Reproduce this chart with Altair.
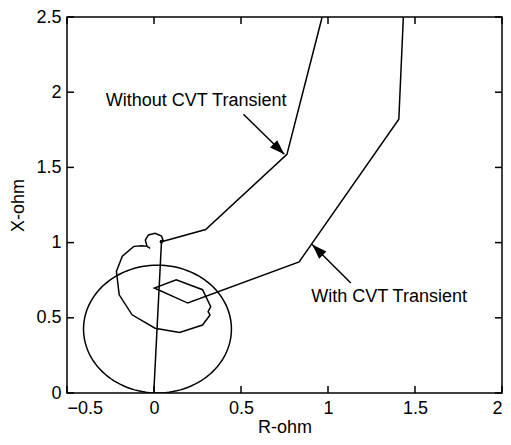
import math
import altair as alt
import pandas as pd

# ---------------- data ----------------
x_ticks = [-0.5, 0, 0.5, 1, 1.5, 2]
y_ticks = [0, 0.5, 1, 1.5, 2, 2.5]

# straight line from the origin to the settling point
line_R = [0.0, 0.0, 0.043]
line_X = [0.0, 0.03, 1.006]

# trajectory without CVT transient
without_R = [0.043, 0.297, 0.764, 0.962, 0.975]
without_X = [1.006, 1.087, 1.587, 2.48, 2.55]

# trajectory with CVT transient
with_R = [1.435, 1.407, 0.834, 0.194, 0.002, 0.128, 0.279, 0.326, 0.311, 0.322,
          0.279, 0.147, 0.006, -0.126, -0.200, -0.216, -0.182, -0.116, -0.069,
          -0.040, -0.022, -0.040, -0.050, -0.032, 0.006, 0.043, 0.053, 0.043]
with_X = [2.55, 1.82, 0.871, 0.598, 0.698, 0.753, 0.687, 0.574, 0.541, 0.519,
          0.452, 0.402, 0.431, 0.520, 0.653, 0.809, 0.909, 0.975, 0.979,
          0.975, 0.962, 0.975, 1.017, 1.051, 1.062, 1.044, 1.013, 1.006]

# mho circle: centre and radius
circle_center = [0.02, 0.425]
circle_radius = 0.425

# annotations
ann_text = ["Without CVT Transient", "With CVT Transient"]
ann_R = [0.242, 1.351]
ann_X = [1.942, 0.638]
arrow_R0 = [0.514, 1.131]
arrow_X0 = [1.853, 0.731]
arrow_R1 = [0.749, 0.909]
arrow_X1 = [1.587, 0.987]

# ---------------- chart ----------------
W, H = 435, 376
XDOM = [-0.5, 2]
YDOM = [0, 2.5]
FONT = "Liberation Sans"
LW = 1.5

xs = alt.Scale(domain=XDOM, nice=False, zero=False)
ys = alt.Scale(domain=YDOM, nice=False, zero=False)
AX_X = alt.Axis(values=x_ticks, format="~g", titlePadding=1)
AX_Y = alt.Axis(values=y_ticks, format="~g", titlePadding=8)


def X(field):
    return alt.X(field, scale=xs, title="R-ohm", axis=AX_X)


def Y(field):
    return alt.Y(field, scale=ys, title="X-ohm", axis=AX_Y)


def path_df(R, Xv, name):
    return pd.DataFrame({"R": R, "X": Xv, "i": list(range(len(R))), "s": name})


paths = pd.concat([
    path_df(line_R, line_X, "line"),
    path_df(without_R, without_X, "without"),
    path_df(with_R, with_X, "with"),
])

lines = alt.Chart(paths).mark_line(color="black", strokeWidth=LW, clip=True).encode(
    x=X("R:Q"), y=Y("X:Q"), detail="s:N", order="i:Q",
)

circle = alt.Chart(alt.sequence(0, 361, 3, as_="deg")).transform_calculate(
    R=f"{circle_center[0]} + {circle_radius} * cos(datum.deg * PI / 180)",
    X=f"{circle_center[1]} + {circle_radius} * sin(datum.deg * PI / 180)",
).mark_line(color="black", strokeWidth=LW, clip=True).encode(
    x=X("R:Q"), y=Y("X:Q"), order="deg:Q",
)

dot = alt.Chart(pd.DataFrame({"R": [line_R[-1]], "X": [line_X[-1]]})).mark_point(
    filled=True, color="black", size=14, opacity=1
).encode(x=X("R:Q"), y=Y("X:Q"))

# arrows
sx = W / (XDOM[1] - XDOM[0])
sy = H / (YDOM[1] - YDOM[0])
angles = []
for r0, x0, r1, x1 in zip(arrow_R0, arrow_X0, arrow_R1, arrow_X1):
    dx = (r1 - r0) * sx
    dys = -(x1 - x0) * sy
    angles.append(math.degrees(math.atan2(dx, -dys)) % 360)

arr = pd.DataFrame({"R0": arrow_R0, "X0": arrow_X0, "R1": arrow_R1, "X1": arrow_X1,
                    "ang": angles})

shafts = alt.Chart(arr).mark_rule(color="black", strokeWidth=LW).encode(
    x=X("R0:Q"), y=Y("X0:Q"), x2="R1:Q", y2="X1:Q",
)

heads = alt.Chart(arr).mark_point(
    shape="M0,0 L0.34,1 L-0.34,1 Z", filled=True, color="black", opacity=1, size=900
).encode(
    x=X("R1:Q"), y=Y("X1:Q"), angle=alt.Angle("ang:Q", scale=None),
)

texts = alt.Chart(pd.DataFrame({"R": ann_R, "X": ann_X, "t": ann_text})).mark_text(
    font=FONT, fontSize=18, color="black", align="center", baseline="middle"
).encode(x=X("R:Q"), y=Y("X:Q"), text="t:N")

# inward ticks on all four sides
TL = 7
xt = pd.DataFrame({"t": x_ticks})
yt = pd.DataFrame({"t": y_ticks})
tick_b = alt.Chart(xt).mark_rule(color="black", strokeWidth=LW).encode(
    x=X("t:Q"), y=alt.value(H), y2=alt.value(H - TL))
tick_t = alt.Chart(xt).mark_rule(color="black", strokeWidth=LW).encode(
    x=X("t:Q"), y=alt.value(0), y2=alt.value(TL))
tick_l = alt.Chart(yt).mark_rule(color="black", strokeWidth=LW).encode(
    y=Y("t:Q"), x=alt.value(0), x2=alt.value(TL))
tick_r = alt.Chart(yt).mark_rule(color="black", strokeWidth=LW).encode(
    y=Y("t:Q"), x=alt.value(W), x2=alt.value(W - TL))

chart = alt.layer(
    lines, circle, dot, shafts, heads, texts, tick_b, tick_t, tick_l, tick_r
).properties(
    width=W, height=H,
    autosize=alt.AutoSizeParams(type="none"),
    padding={"left": 59, "top": 9, "right": 1, "bottom": 44},
).configure_view(
    stroke="black", strokeWidth=LW
).configure_axis(
    labelFont=FONT, labelFontSize=18, labelColor="black",
    titleFont=FONT, titleFontSize=18, titleFontWeight="normal", titleColor="black",
    ticks=False, tickSize=0, domain=False, grid=False, labelPadding=6,
)

chart.save("out.html", embed_options={"renderer": "svg", "actions": False})
